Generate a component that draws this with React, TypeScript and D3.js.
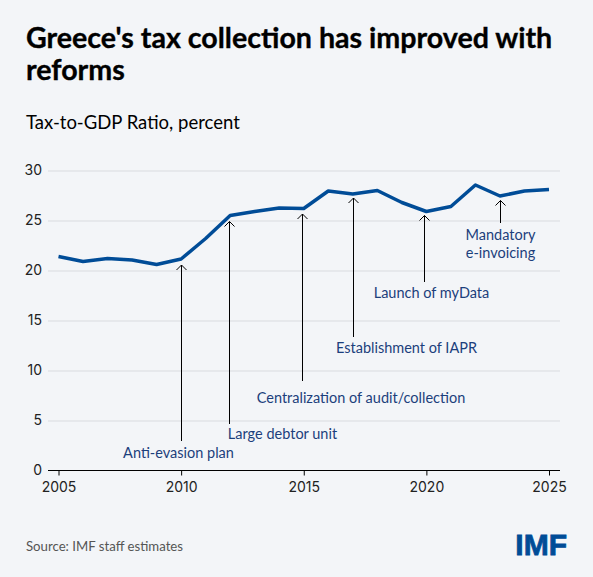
import React, { useEffect, useRef } from 'react';
import * as d3 from 'd3';

const years = [2005, 2006, 2007, 2008, 2009, 2010, 2011, 2012, 2013, 2014, 2015, 2016, 2017, 2018, 2019, 2020, 2021, 2022, 2023, 2024, 2025];
const ratio = [21.4, 20.9, 21.2, 21.05, 20.6, 21.15, 23.2, 25.5, 25.9, 26.25, 26.2, 27.95, 27.65, 28.0, 26.8, 25.9, 26.4, 28.55, 27.45, 27.95, 28.1];
const yTicks = [0, 5, 10, 15, 20, 25, 30];
const xTicks = [2005, 2010, 2015, 2020, 2025];

const eventYears = [2010, 2012, 2015, 2017, 2020, 2023];
const eventLabels = [
  ['Anti-evasion plan'],
  ['Large debtor unit'],
  ['Centralization of audit/collection'],
  ['Establishment of IAPR'],
  ['Launch of myData'],
  ['Mandatory', 'e-invoicing'],
];

// hand placed annotation layout, in pixels
const arrowDx = [0, -1, -2, 0, -2, 0];
const tipGap = [6, 6, 5.5, 4, 4, 4.5];
const tailY = [441, 424, 381, 337, 282, 223];
const labelY = [458, 439, 403, 353, 298, 240];
const labelDx = [-3, 53, 58.5, 53, 7, 0];

const W = 593;
const H = 577;
const BG = '#f3f5f8';
const BLUE = '#004c97';
const LABEL = '#1c3f7c';
const FONT = 'Lato, sans-serif';
const TICK_FONT = 'Inter, sans-serif';

const App: React.FC = () => {
  const ref = useRef<SVGSVGElement | null>(null);

  useEffect(() => {
    const svg = d3.select(ref.current);
    svg.selectAll('*').remove();

    const x = d3.scaleLinear().domain([2005, 2025]).range([58.5, 549]);
    const y = d3.scaleLinear().domain([0, 30]).range([470.5, 170.5]);
    const left = 48;
    const right = 560;

    svg.append('rect').attr('width', W).attr('height', H).attr('fill', BG);

    // titles
    const title = svg.append('g')
      .attr('font-family', FONT).attr('font-weight', 700).attr('font-size', 28.6)
      .attr('fill', '#000').attr('stroke', '#000').attr('stroke-width', 0.35);
    title.append('text').attr('x', 26).attr('y', 48).text("Greece's tax collection has improved with");
    title.append('text').attr('x', 26).attr('y', 79.5).text('reforms');
    svg.append('text').attr('x', 26).attr('y', 129).attr('font-family', FONT).attr('font-size', 18.5).attr('fill', '#000').text('Tax-to-GDP Ratio, percent');

    // y axis and grid
    const yAxis = svg.append('g')
      .attr('transform', `translate(${left},0)`)
      .call(d3.axisLeft(y).tickValues(yTicks).tickSize(0).tickPadding(6).tickFormat(d3.format('d')));
    yAxis.select('.domain').remove();
    yAxis.selectAll('.tick line')
      .attr('x2', right - left)
      .attr('stroke', '#d9dbdf')
      .attr('stroke-width', 1);
    yAxis.selectAll('.tick').filter((d) => d === 0).select('line').remove();
    yAxis.selectAll('text').attr('font-family', TICK_FONT).attr('font-size', 14).attr('fill', '#222');

    // x axis
    const xAxis = svg.append('g')
      .attr('transform', `translate(0,${y(0)})`)
      .call(d3.axisBottom(x).tickValues(xTicks).tickSize(5).tickSizeOuter(0).tickPadding(7).tickFormat(d3.format('d')));
    xAxis.select('.domain').attr('d', `M${left},0H${right}`).attr('stroke', '#000').attr('stroke-width', 1);
    xAxis.selectAll('.tick line').attr('stroke', '#000');
    xAxis.selectAll('text').attr('font-family', TICK_FONT).attr('font-size', 14).attr('fill', '#222');

    // series
    const line = d3.line<number>().x((_, i) => x(years[i])).y((d) => y(d));
    svg.append('path')
      .attr('d', line(ratio))
      .attr('fill', 'none')
      .attr('stroke', BLUE)
      .attr('stroke-width', 3.5)
      .attr('stroke-linejoin', 'round');

    // annotations
    eventYears.forEach((yr, i) => {
      const px = Math.round(x(yr) + arrowDx[i]) + 0.5;
      const tip = y(ratio[years.indexOf(yr)]) + tipGap[i];
      const g = svg.append('g');
      g.append('line')
        .attr('x1', px).attr('x2', px)
        .attr('y1', tip).attr('y2', tailY[i])
        .attr('stroke', '#000').attr('stroke-width', 1);
      g.append('path')
        .attr('d', `M${px - 5},${tip + 5}L${px},${tip}L${px + 5},${tip + 5}`)
        .attr('fill', 'none').attr('stroke', '#000').attr('stroke-width', 1);
      eventLabels[i].forEach((t, j) => {
        g.append('text')
          .attr('x', px + labelDx[i])
          .attr('y', labelY[i] + j * 17.5)
          .attr('text-anchor', 'middle')
          .attr('font-family', FONT)
          .attr('font-size', 14.5)
          .attr('fill', LABEL)
          .text(t);
      });
    });

    // footer
    svg.append('text').attr('x', 26).attr('y', 551).attr('font-family', FONT).attr('font-size', 13.2).attr('fill', '#555').text('Source: IMF staff estimates');
    svg.append('text').attr('x', 567).attr('y', 555).attr('text-anchor', 'end')
      .attr('font-family', 'Liberation Sans, sans-serif').attr('font-weight', 700).attr('font-size', 30)
      .attr('stroke', BLUE).attr('stroke-width', 0.8)
      .attr('fill', BLUE).text('IMF');
  }, []);

  return <svg ref={ref} width={W} height={H} style={{ position: 'absolute', left: 0, top: 0, display: 'block' }} />;
};

export default App;
